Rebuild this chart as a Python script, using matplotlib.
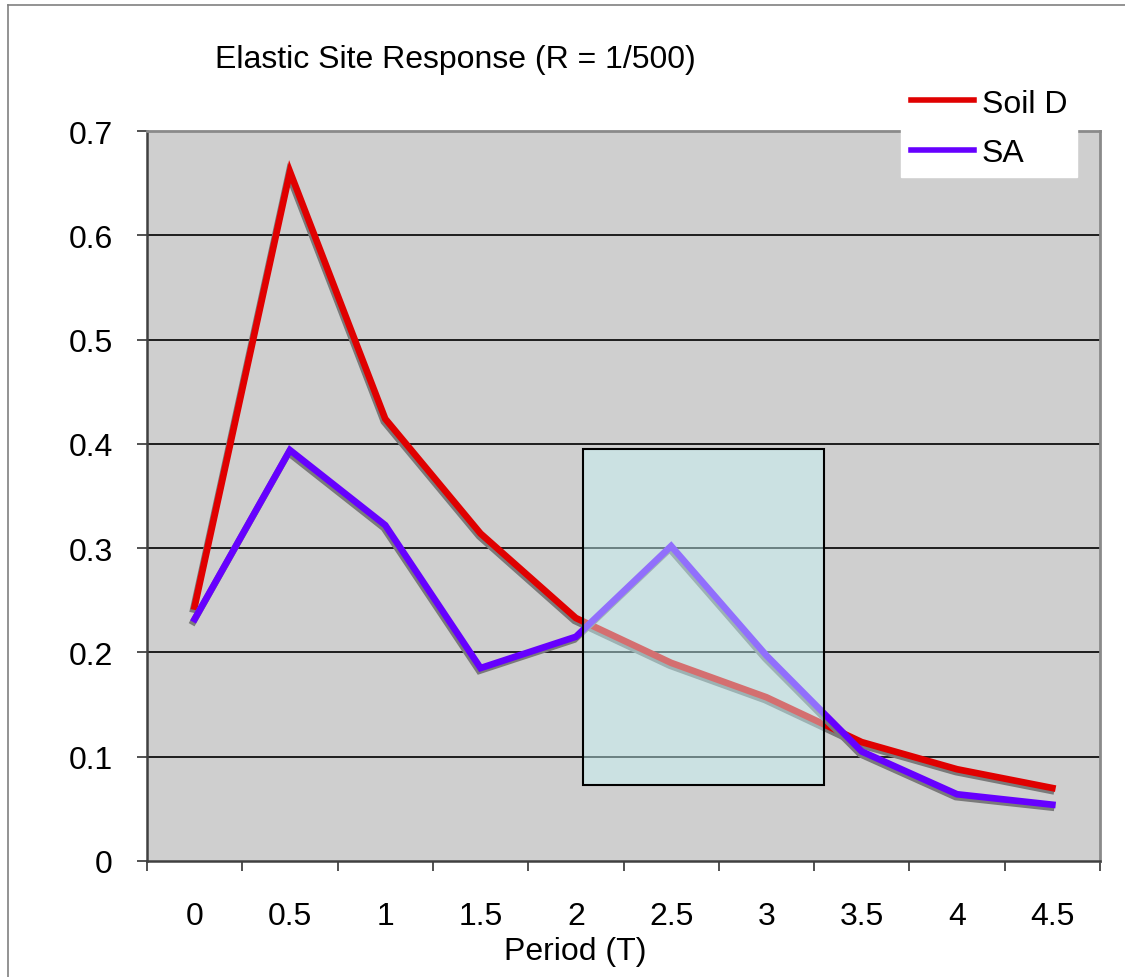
import matplotlib
matplotlib.use("Agg")
import matplotlib.pyplot as plt
import matplotlib.patheffects as pe
from matplotlib.patches import Rectangle
from matplotlib.lines import Line2D
import numpy as np

plt.rcParams['font.family'] = ['Liberation Sans', 'DejaVu Sans']

categories = ["0", "0.5", "1", "1.5", "2", "2.5", "3", "3.5", "4", "4.5"]
soil_d = [0.244, 0.661, 0.424, 0.314, 0.233, 0.190, 0.157, 0.114, 0.088, 0.070]
sa = [0.232, 0.394, 0.322, 0.185, 0.215, 0.302, 0.197, 0.105, 0.064, 0.054]
y_ticks = [0, 0.1, 0.2, 0.3, 0.4, 0.5, 0.6, 0.7]
y_tick_labels = ["0", "0.1", "0.2", "0.3", "0.4", "0.5", "0.6", "0.7"]
highlight_x = (4.07, 6.60)
highlight_y = (0.073, 0.395)

W, H = 1125, 978
FS = 23
fig = plt.figure(figsize=(W / 100, H / 100), dpi=100)
ax = fig.add_axes([147 / W, 1 - 862 / H, 953 / W, 730 / H])
ax.set_facecolor('#cfcfcf')

x = np.arange(len(categories))
ax.set_xlim(-0.5, len(categories) - 0.5)
ax.set_ylim(0, 0.7)

for yv in y_ticks[1:-1]:
    ax.axhline(yv, color='black', lw=1.2, zorder=1)

shadow = [pe.SimpleLineShadow(offset=(-1, -2), shadow_color='#7a7a7a', alpha=1.0), pe.Normal()]
l1, = ax.plot(x, soil_d, color='#e00000', lw=4.8, solid_joinstyle='miter',
              path_effects=shadow, zorder=3, label='Soil D')
l2, = ax.plot(x, sa, color='#6600ff', lw=4.8, solid_joinstyle='miter',
              path_effects=shadow, zorder=3, label='SA')

rx0, rx1 = highlight_x
ry0, ry1 = highlight_y
ax.add_patch(Rectangle((rx0, ry0), rx1 - rx0, ry1 - ry0, facecolor=(199/255, 248/255, 250/255),
                       alpha=0.45, edgecolor='none', zorder=4))
ax.add_patch(Rectangle((rx0, ry0), rx1 - rx0, ry1 - ry0, facecolor='none',
                       edgecolor='black', lw=1.5, zorder=5))

ax.set_xticks(x)
ax.set_xticklabels(categories, fontsize=FS)
ax.set_xticks(np.arange(-0.5, len(categories)), minor=True)
ax.tick_params(axis='x', which='major', length=0, pad=29)
ax.tick_params(axis='x', which='minor', length=7.5, width=1.2, color='#333333', direction='out')
ax.set_yticks(y_ticks)
ax.set_yticklabels(y_tick_labels, fontsize=FS)
ax.tick_params(axis='y', length=7.5, width=1.2, color='#333333', direction='out', pad=17)

ax.spines['left'].set_color('#404040')
ax.spines['left'].set_linewidth(1.8)
ax.spines['bottom'].set_color('#404040')
ax.spines['bottom'].set_linewidth(1.8)
ax.spines['top'].set_color('#8a8a8a')
ax.spines['top'].set_linewidth(2)
ax.spines['right'].set_color('#8a8a8a')
ax.spines['right'].set_linewidth(2)

fig.text(455 / W, 1 - 60 / H, "Elastic Site Response (R = 1/500)", fontsize=FS,
         ha='center', va='center')
fig.text(575 / W, 1 - 952 / H, "Period (T)", fontsize=FS, ha='center', va='center')

h1 = Line2D([], [], color='#e00000', lw=4)
h2 = Line2D([], [], color='#6600ff', lw=4)
leg = fig.legend([h1, h2], ['Soil D', 'SA'], loc='upper left',
                 bbox_to_anchor=(901 / W, 1 - 80 / H), fontsize=FS, frameon=True,
                 handlelength=2.0, handletextpad=0.22, labelspacing=0.6,
                 borderpad=0.3, borderaxespad=0, fancybox=False)
leg.get_frame().set_facecolor('white')
leg.get_frame().set_edgecolor('white')
leg.get_frame().set_alpha(1)

fig.add_artist(Line2D([8 / W, 8 / W], [0, 1 - 6 / H], color='#808080', lw=1.2))
fig.add_artist(Line2D([8 / W, 1], [1 - 6 / H, 1 - 6 / H], color='#808080', lw=1.2))

fig.savefig('out.png', dpi=100)
